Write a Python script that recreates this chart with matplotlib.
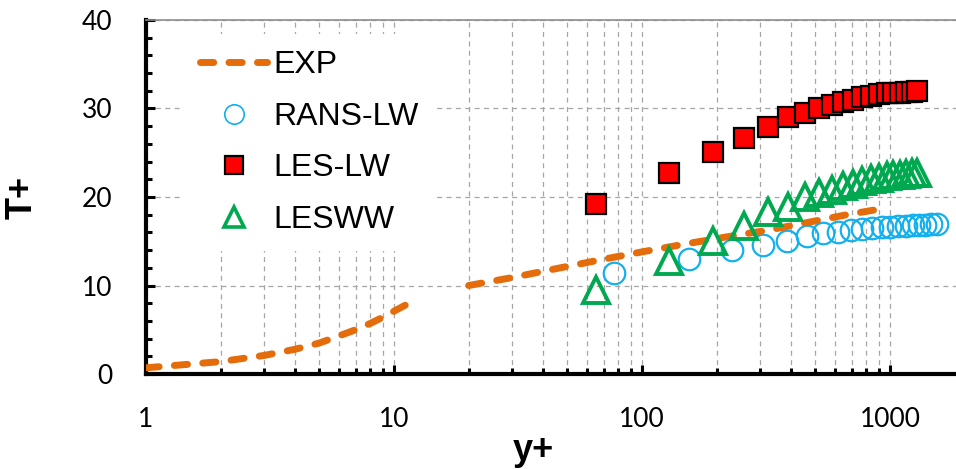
import numpy as np
import matplotlib
matplotlib.use("Agg")
import matplotlib.pyplot as plt
from matplotlib.ticker import FixedLocator, MultipleLocator, NullFormatter

# EXP: conduction sublayer and log region (no data in between)
exp_y1 = [1, 2, 3, 4, 5, 6, 7, 8, 9, 10, 11.5]
exp_t1 = [0.7, 1.4, 2.1, 2.8, 3.5, 4.3, 5.0, 5.7, 6.4, 7.1, 8.0]
exp_y2 = [20, 30, 45, 68, 100, 150, 220, 330, 480, 670, 985]
exp_t2 = [10.0, 10.9, 11.9, 12.9, 13.8, 14.7, 15.5, 16.3, 17.2, 18.0, 18.8]

rans_y = [77, 154, 231, 308, 385, 462, 539, 616, 693, 770,
          847, 924, 1001, 1078, 1155, 1232, 1309, 1386, 1463, 1540]
rans_t = [11.4, 13.0, 14.0, 14.6, 15.0, 15.6, 15.9, 16.1, 16.3, 16.4,
          16.5, 16.6, 16.65, 16.7, 16.75, 16.8, 16.8, 16.85, 16.9, 16.9]

les_y = [65, 129, 194, 258, 323, 387, 452, 516, 581, 645,
         710, 774, 839, 903, 968, 1032, 1097, 1161, 1226, 1290]
les_lw_t = [19.2, 22.7, 25.1, 26.7, 27.9, 29.0, 29.5, 30.0, 30.4, 30.7,
            31.0, 31.3, 31.4, 31.6, 31.7, 31.8, 31.8, 31.9, 31.9, 32.0]
les_ww_t = [9.5, 12.8, 15.0, 16.7, 18.3, 18.9, 20.0, 20.5, 20.8, 21.2,
            21.5, 21.8, 22.0, 22.2, 22.4, 22.5, 22.5, 22.6, 22.7, 22.7]

orange = "#E46C0A"
blue = "#12B0EE"
green = "#00A84F"

fig = plt.figure(figsize=(9.56, 4.69), dpi=100)
ax = fig.add_axes([146/956, 95/469, 810/956, 354/469])

ax.plot(rans_y, rans_t, ls="none", marker="o", ms=15.5, mfc="none",
        mec=blue, mew=1.6, label="RANS-LW", zorder=3)
dash = dict(color=orange, lw=5.0, dashes=(1.9, 2.2), dash_capstyle="round", zorder=4)
ax.plot(exp_y1, exp_t1, label="EXP", **dash)
ax.plot(exp_y2, exp_t2, **dash)
ax.plot(les_y, les_lw_t, ls="none", marker="s", ms=14.5, mfc="#FF0000",
        mec="black", mew=1.6, label="LES-LW", zorder=5)
ax.plot(les_y, les_ww_t, ls="none", marker="^", ms=18.5, mfc="none",
        mec=green, mew=2.8, label="LESWW", zorder=6)

ax.set_xscale("log")
ax.set_xlim(1, 1845)
ax.set_ylim(0, 40)

ax.xaxis.set_major_locator(FixedLocator([1, 10, 100, 1000]))
minors = [m * d for d in (1, 10, 100, 1000) for m in range(2, 10) if m * d < 1845]
ax.xaxis.set_minor_locator(FixedLocator(minors))
ax.xaxis.set_minor_formatter(NullFormatter())
ax.set_xticklabels(["1", "10", "100", "1000"])
ax.yaxis.set_major_locator(MultipleLocator(10))
ax.yaxis.set_minor_locator(MultipleLocator(2))

ax.tick_params(which="both", direction="in", width=2.2, color="black",
               top=False, right=False)
ax.tick_params(which="major", length=6.5, pad=24, labelsize=19)
ax.tick_params(which="minor", length=4.5)
for lab in ax.get_xticklabels() + ax.get_yticklabels():
    lab.set_family("Lato")

ax.grid(True, which="both", axis="x", color="#A6A6A6", ls=(0, (4, 3.5)), lw=0.9)
ax.grid(True, which="major", axis="y", color="#A6A6A6", ls=(0, (4, 3.5)), lw=0.9)
ax.set_axisbelow(True)

for s in ("left", "bottom"):
    ax.spines[s].set_linewidth(3)
ax.spines["top"].set_color("#8C8C8C")
ax.spines["top"].set_linewidth(1.2)
ax.spines["right"].set_visible(False)

ax.set_xlabel("y+", fontsize=26, fontweight="bold", family="Liberation Sans")
ax.set_ylabel("T+", fontsize=26, fontweight="bold", family="Liberation Sans")
ax.xaxis.set_label_coords(0.478, -0.168)
ax.yaxis.set_label_coords(-0.131, 0.5)

handles, labels = ax.get_legend_handles_labels()
order = [labels.index(k) for k in ("EXP", "RANS-LW", "LES-LW", "LESWW")]
leg = ax.legend([handles[i] for i in order], [labels[i] for i in order],
                loc="upper left", bbox_to_anchor=((184 - 146) / 810, (374 - 34) / 354),
                frameon=True, facecolor="white", edgecolor="none", framealpha=1,
                fancybox=False, prop={"family": "Liberation Sans", "size": 23},
                handlelength=2.1, handletextpad=0.2, labelspacing=0.68,
                borderpad=0.5, borderaxespad=0)
for h in leg.legend_handles:
    if h.get_marker() == "o":
        h.set_markersize(14); h.set_markeredgewidth(1.2)
    elif h.get_marker() == "s":
        h.set_markersize(12.5)
    elif h.get_marker() == "^":
        h.set_markersize(14); h.set_markeredgewidth(2.6)

fig.savefig("out.png", dpi=100)
